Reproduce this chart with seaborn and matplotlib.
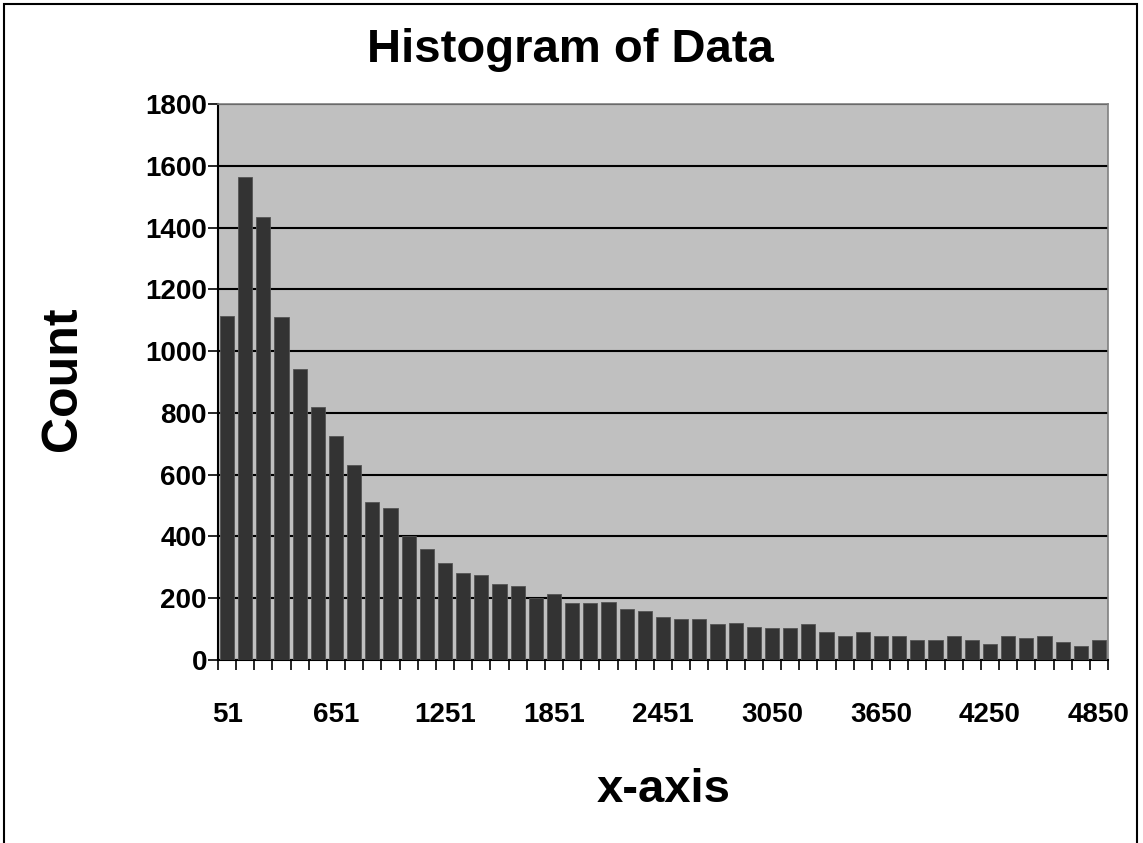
import pandas as pd
import matplotlib.pyplot as plt
import seaborn as sns
from matplotlib.patches import Rectangle
from matplotlib.ticker import FixedLocator, MultipleLocator

# counts per bin (bin width ~100, first bin 51, last 4850)
counts = [1115, 1565, 1434, 1110, 943, 818, 724, 630, 511, 492,
          400, 360, 315, 283, 276, 245, 240, 202, 215, 183,
          183, 189, 164, 158, 139, 133, 133, 115, 121, 108,
          102, 103, 116, 90, 77, 90, 77, 77, 64, 64,
          77, 64, 52, 77, 70, 77, 58, 45, 64]
# labels shown every 6th bin
tick_labels = ["51", "651", "1251", "1851", "2451", "3050", "3650", "4250", "4850"]
label_step = 6

df = pd.DataFrame({"bin": range(len(counts)), "count": counts})

sns.set_style("white")
plt.rcParams['font.family'] = ['Liberation Sans', 'DejaVu Sans']
plt.rcParams['text.color'] = 'black'
plt.rcParams['xtick.color'] = 'black'
plt.rcParams['ytick.color'] = 'black'

fig = plt.figure(figsize=(11.43, 8.43), dpi=100)
ax = fig.add_axes([218 / 1143, 1 - 660 / 843, (1108 - 218) / 1143, (660 - 104) / 843])
ax.set_facecolor("#c0c0c0")

sns.barplot(data=df, x="bin", y="count", color="#333333", width=0.78,
            edgecolor="#555555", linewidth=0.6, saturation=1, ax=ax, zorder=3)

ax.set_xlim(-0.5, len(counts) - 0.5)
ax.set_ylim(0, 1800)
ax.yaxis.set_major_locator(MultipleLocator(200))
ax.grid(axis="y", color="black", linewidth=1.5, zorder=1)
ax.set_axisbelow(True)

# tick marks at bin boundaries, labels under every 6th bar
ax.xaxis.set_major_locator(FixedLocator(list(range(0, len(counts), label_step))))
ax.set_xticklabels(tick_labels)
ax.xaxis.set_minor_locator(FixedLocator([i - 0.5 for i in range(len(counts) + 1)]))
ax.tick_params(axis="x", which="major", length=0, pad=30, labelsize=20, labelcolor="black")
ax.tick_params(axis="x", which="minor", length=7, width=1.2, color="black", direction="out", bottom=True)
ax.tick_params(axis="y", length=7, width=1.2, color="black", direction="out", left=True, pad=1,
               labelsize=20, labelcolor="black")
for lbl in ax.get_xticklabels() + ax.get_yticklabels():
    lbl.set_fontweight("bold")

ax.set_xlabel("")
ax.set_ylabel("")
for side in ["left", "bottom"]:
    ax.spines[side].set_color("black")
    ax.spines[side].set_linewidth(1.5)
for side in ["top", "right"]:
    ax.spines[side].set_color("#808080")
    ax.spines[side].set_linewidth(1.2)

fig.text(570 / 1143, 1 - 50 / 843, "Histogram of Data", ha="center", va="center", fontsize=34,
         fontweight="bold", color="black")
fig.text(664 / 1143, 1 - 790 / 843, "x-axis", ha="center", va="center", fontsize=34,
         fontweight="bold", color="black")
fig.text(63 / 1143, 1 - 379 / 843, "Count", ha="center", va="center", rotation=90, fontsize=36,
         fontweight="bold", color="black")

# outer chart frame
fig.patches.append(Rectangle((4 / 1143, -0.01), 1133 / 1143, 1.0 - 4 / 843 + 0.01,
                             transform=fig.transFigure, fill=False, edgecolor="black", linewidth=1.5))

fig.savefig("out.png", dpi=100)
